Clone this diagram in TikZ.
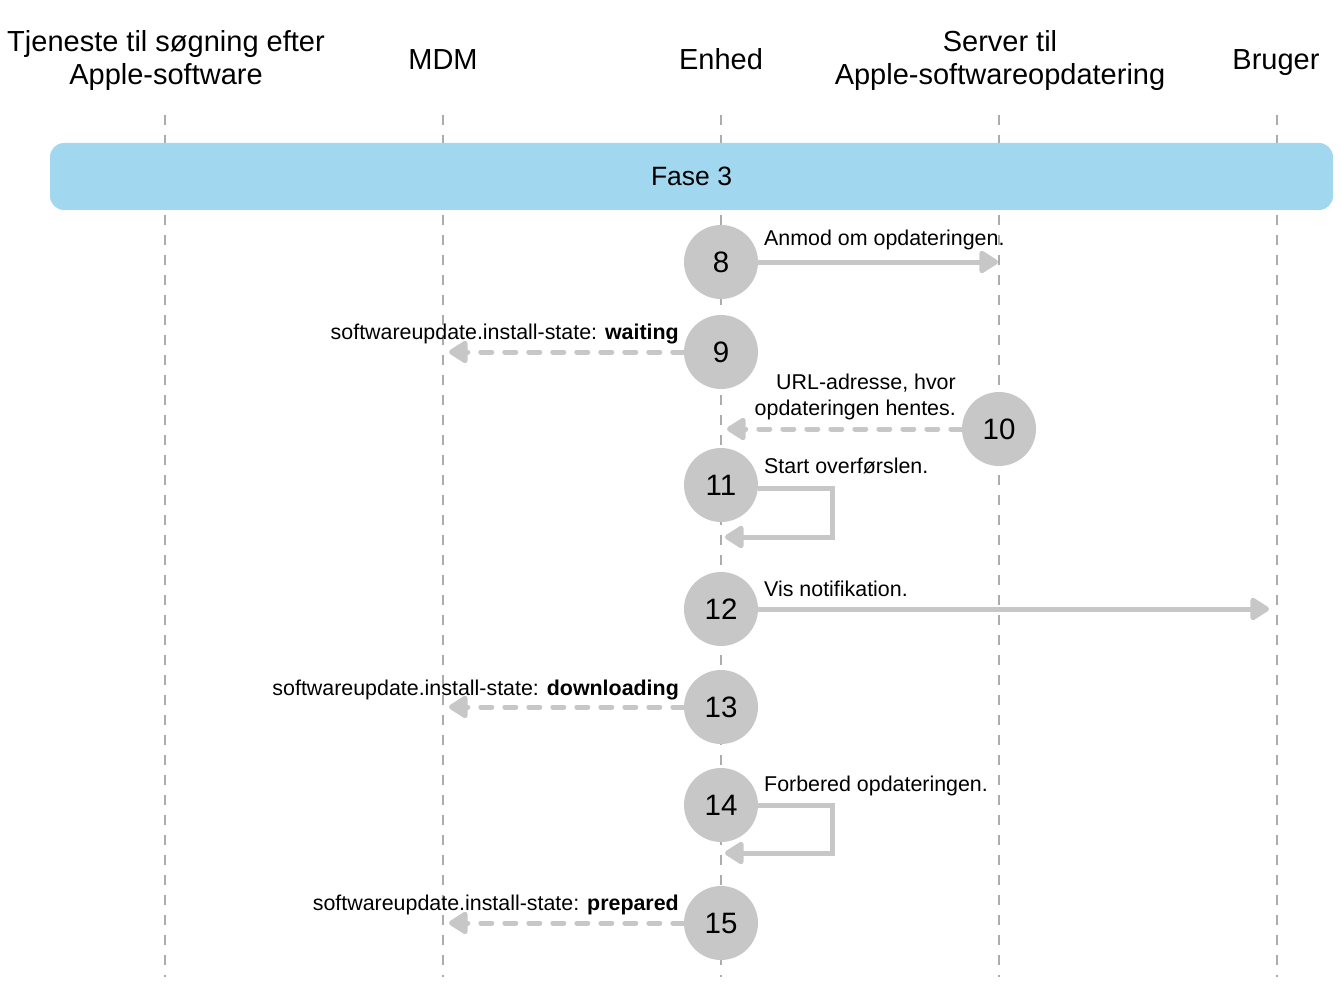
\documentclass[tikz,border=0pt]{standalone}
\usepackage{fontspec}
\setmainfont{Liberation Sans}
\usetikzlibrary{arrows.meta}
\definecolor{lifegray}{RGB}{172,172,172}
\definecolor{circgray}{RGB}{198,199,198}
\definecolor{arrgray}{RGB}{198,199,198}
\definecolor{bandblue}{RGB}{162,216,239}
\begin{document}
\begin{tikzpicture}[x=1pt,y=-1pt,
 lifeline/.style={draw=lifegray, line width=1.5pt, dash pattern=on 10pt off 10pt},
 stepcirc/.style={circle, fill=circgray, minimum size=74pt, inner sep=0pt, font=\fontsize{29.5}{32}\selectfont},
 msg/.style={draw=arrgray, line width=5pt, -{Triangle[length=21pt,width=25pt,round]}},
 ret/.style={msg, dash pattern=on 11pt off 13pt, line cap=round},
 hdr/.style={font=\fontsize{29}{33}\selectfont, align=center, inner sep=0pt},
 lbl/.style={font=\fontsize{21.4}{26}\selectfont, inner sep=0pt}]
\useasboundingbox (0,0) rectangle (1341,987);
% headers
\node[hdr] (h1) at (166,60.5) {Tjeneste til søgning efter\\Apple-software};
\node[hdr, anchor=base] (h2) at (443,70) {MDM};
\node[hdr, anchor=base] (h3) at (721,70) {Enhed};
\node[hdr] (h4) at (1000,60.5) {Server til\\Apple-softwareopdatering};
\node[hdr, anchor=base] (h5) at (1276,70) {Bruger};
% lifelines
\foreach \n/\x in {a/165,b/443,c/721,d/999,e/1277}{
  \coordinate (\n top) at (\x,115);
  \coordinate (\n bot) at (\x,977);
  \draw[lifeline] (\n top) -- (\n bot);
}
% band
\node[fill=bandblue, rounded corners=14pt, minimum width=1283pt, minimum height=67pt, font=\fontsize{26.5}{30}\selectfont] (band) at (691.5,176.5) {Fase 3};
% circles
\node[stepcirc] (s8) at (721,262) {8};
\node[stepcirc] (s9) at (721,352) {9};
\node[stepcirc] (s10) at (999,429) {10};
\node[stepcirc] (s11) at (721,485) {11};
\node[stepcirc] (s12) at (721,609) {12};
\node[stepcirc] (s13) at (721,707) {13};
\node[stepcirc] (s14) at (721,805) {14};
\node[stepcirc] (s15) at (721,923) {15};
% endpoints
\coordinate (t8) at (998,262);
\coordinate (t9) at (449,352);
\coordinate (t10) at (727,429);
\coordinate (t12) at (1269,609);
\coordinate (t13) at (449,707);
\coordinate (t15) at (449,923);
\coordinate (l11a) at (832,488);
\coordinate (l11b) at (832,537);
\coordinate (t11) at (725,537);
\coordinate (l14a) at (832,805);
\coordinate (l14b) at (832,853);
\coordinate (t14) at (725,853);
% arrows
\draw[msg] (s8.east) -- (t8);
\draw[ret] (s9.west) -- (t9);
\draw[ret] (s10.west) -- (t10);
\draw[msg] (s11.east |- l11a) -- (l11a) -- (l11b) -- (t11);
\draw[msg] (s12.east) -- (t12);
\draw[ret] (s13.west) -- (t13);
\draw[msg] (s14.east) -- (l14a) -- (l14b) -- (t14);
\draw[ret] (s15.west) -- (t15);
% labels
\node[lbl, anchor=base west] (m8) at (764,245) {Anmod om opdateringen.};
\node[lbl, anchor=base east] (m9) at (679,339) {softwareupdate.install-state: \textbf{waiting}};
\node[lbl, anchor=east, align=right] (m10) at (956,397) {URL-adresse, hvor\\opdateringen hentes.};
\node[lbl, anchor=base west] (m11) at (764,473) {Start overførslen.};
\node[lbl, anchor=base west] (m12) at (764,596) {Vis notifikation.};
\node[lbl, anchor=base east] (m13) at (679,695) {softwareupdate.install-state: \textbf{downloading}};
\node[lbl, anchor=base west] (m14) at (764,791) {Forbered opdateringen.};
\node[lbl, anchor=base east] (m15) at (679,910) {softwareupdate.install-state: \textbf{prepared}};
\end{tikzpicture}
\end{document}
